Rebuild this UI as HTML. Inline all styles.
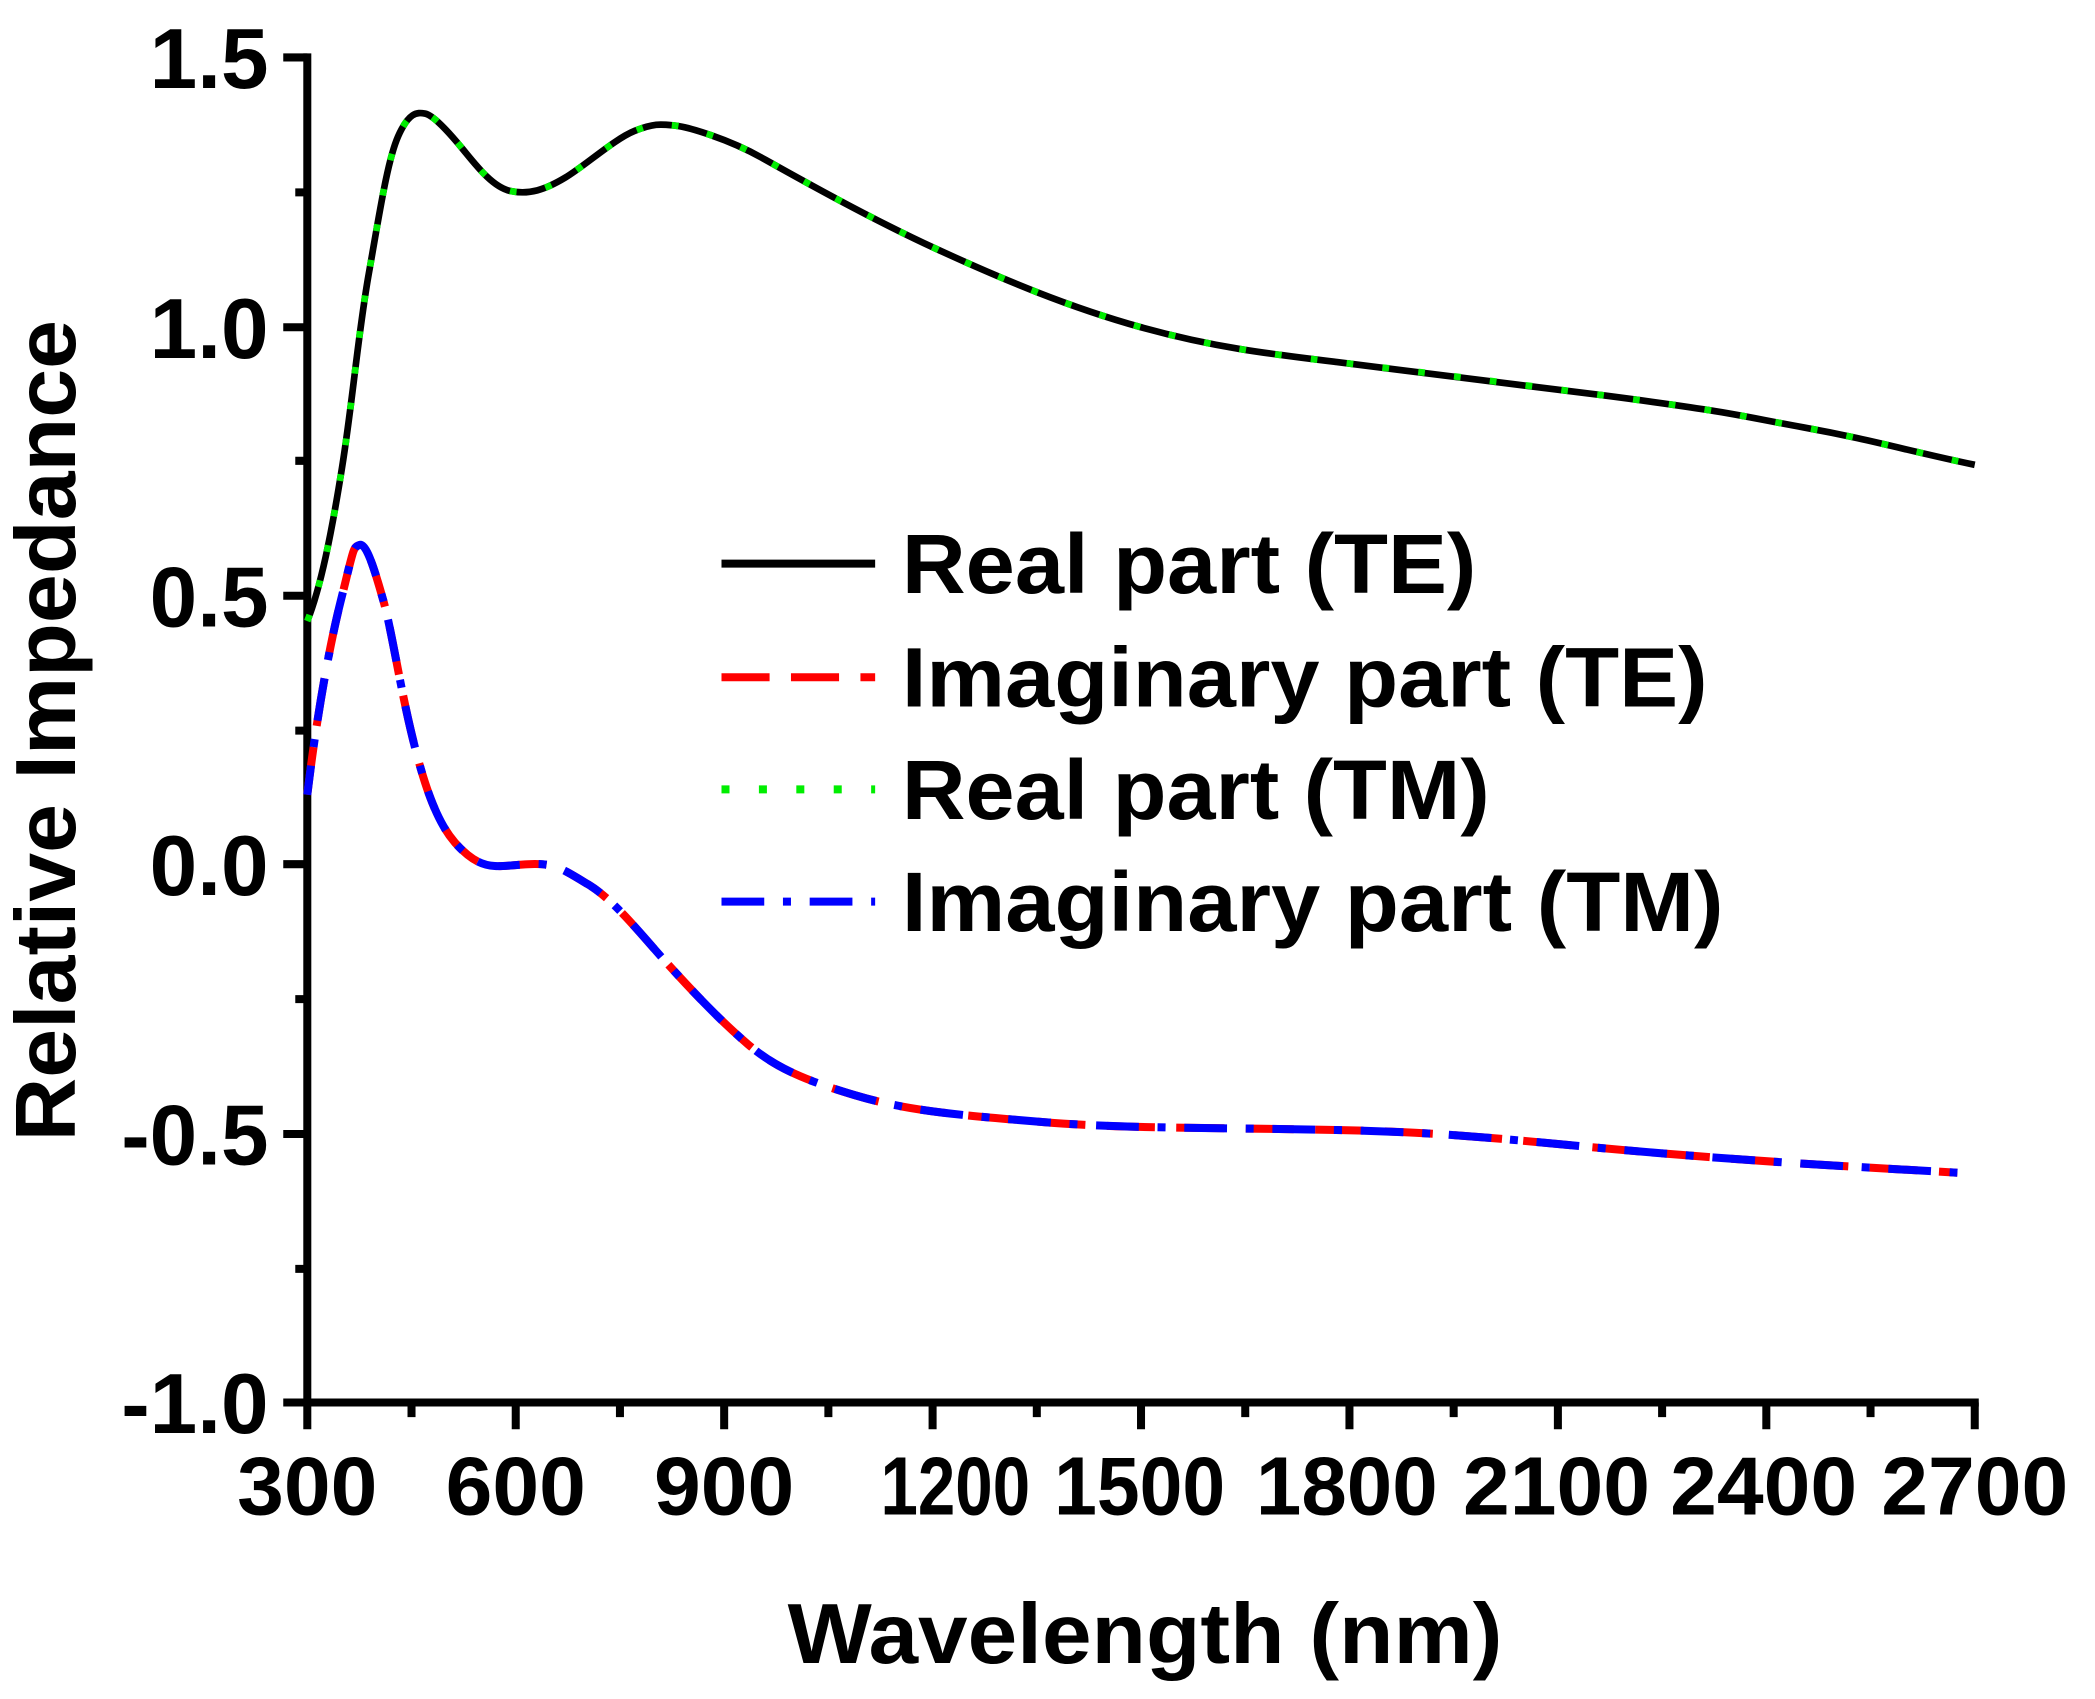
<!DOCTYPE html>
<html><head><meta charset="utf-8"><style>html,body{margin:0;padding:0;background:#fff}svg{display:block}</style></head>
<body>
<svg width="2095" height="1699" viewBox="0 0 1568 1272" preserveAspectRatio="none" xmlns="http://www.w3.org/2000/svg" font-family="Liberation Sans, Arial, sans-serif" font-weight="bold">
<rect width="1568" height="1272" fill="#fff"/>
<g stroke="#000" stroke-width="6" fill="none">
<line x1="230" y1="40" x2="230" y2="1053"/>
<line x1="227" y1="1050" x2="1481" y2="1050"/>
<path d="M212 43H230M212 245H230M212 446H230M212 647H230M212 849H230M212 1050H230"/>
<path d="M221 144H230M221 345H230M221 547H230M221 748H230M221 950H230"/>
<path d="M230 1050V1070M386 1050V1070M542 1050V1070M698 1050V1070M854 1050V1070M1010 1050V1070M1166 1050V1070M1322 1050V1070M1478 1050V1070"/>
<path d="M308 1050V1061M464 1050V1061M620 1050V1061M776 1050V1061M932 1050V1061M1088 1050V1061M1244 1050V1061M1400 1050V1061"/>
</g>
<g font-size="64" text-anchor="end">
<text x="201" y="66">1.5</text><text x="201" y="268">1.0</text><text x="201" y="469">0.5</text>
<text x="201" y="670">0.0</text><text x="201" y="872">-0.5</text><text x="201" y="1073">-1.0</text>
</g>
<g font-size="62" text-anchor="middle">
<text x="230" y="1134" textLength="105" lengthAdjust="spacingAndGlyphs">300</text>
<text x="386" y="1134" textLength="105" lengthAdjust="spacingAndGlyphs">600</text>
<text x="542" y="1134" textLength="105" lengthAdjust="spacingAndGlyphs">900</text>
<text x="715" y="1134" textLength="112" lengthAdjust="spacingAndGlyphs">1200</text>
<text x="853" y="1134" textLength="128" lengthAdjust="spacingAndGlyphs">1500</text>
<text x="1008" y="1134" textLength="136" lengthAdjust="spacingAndGlyphs">1800</text>
<text x="1165" y="1134" textLength="140" lengthAdjust="spacingAndGlyphs">2100</text>
<text x="1320" y="1134" textLength="140" lengthAdjust="spacingAndGlyphs">2400</text>
<text x="1478" y="1134" textLength="140" lengthAdjust="spacingAndGlyphs">2700</text>
</g>
<text x="857" y="1245" font-size="64" text-anchor="middle" textLength="535" lengthAdjust="spacingAndGlyphs">Wavelength (nm)</text>
<text transform="translate(56,547) rotate(-90)" font-size="64" text-anchor="middle" textLength="615" lengthAdjust="spacingAndGlyphs">Relative Impedance</text>
<g fill="none" stroke-linejoin="round">
<path d="M230,465 C240,440 248,400 256,350 S268,250 276,205 S290,120 298,102 S312,84 318,85 S335,98 345,110 S368,140 382,143 S408,142 423,133 S460,104 475,98 S495,93 505,94 S545,104 570,118 S650,163 700,186 S800,230 854,245 S950,265 1000,271 S1100,283 1200,296 S1300,311 1350,320 S1430,338 1478,348" stroke="#000" stroke-width="5"/>
<path d="M230,465 C240,440 248,400 256,350 S268,250 276,205 S290,120 298,102 S312,84 318,85 S335,98 345,110 S368,140 382,143 S408,142 423,133 S460,104 475,98 S495,93 505,94 S545,104 570,118 S650,163 700,186 S800,230 854,245 S950,265 1000,271 S1100,283 1200,296 S1300,311 1350,320 S1430,338 1478,348" stroke="#00ee00" stroke-width="5" stroke-dasharray="5 22"/>
<path id="im" d="M230,595 C236,545 245,490 255,450 S264,410 269,408 S280,425 287,450 S300,520 312,565 S335,628 350,640 S375,648 395,647 S420,650 440,662 S480,700 500,722 S540,765 560,782 S600,808 640,820 S720,835 780,840 S900,844 1000,846 S1150,856 1250,864 S1400,874 1465,878" stroke="#ff0000" stroke-width="6" stroke-dasharray="36 16"/>
<path d="M230,595 C236,545 245,490 255,450 S264,410 269,408 S280,425 287,450 S300,520 312,565 S335,628 350,640 S375,648 395,647 S420,650 440,662 S480,700 500,722 S540,765 560,782 S600,808 640,820 S720,835 780,840 S900,844 1000,846 S1150,856 1250,864 S1400,874 1465,878" stroke="#0000ff" stroke-width="6" stroke-dasharray="32 14 6 14" stroke-dashoffset="10"/>
</g>
<g stroke-width="6">
<line x1="540" y1="422" x2="655" y2="422" stroke="#000"/>
<line x1="540" y1="507" x2="655" y2="507" stroke="#ff0000" stroke-dasharray="36 16"/>
<line x1="540" y1="591" x2="655" y2="591" stroke="#00ee00" stroke-dasharray="6 22"/>
<line x1="540" y1="675" x2="655" y2="675" stroke="#0000ff" stroke-dasharray="32 14 6 14"/>
</g>
<g font-size="63">
<text x="675" y="444" textLength="430" lengthAdjust="spacingAndGlyphs">Real part (TE)</text>
<text x="675" y="529" textLength="603" lengthAdjust="spacingAndGlyphs">Imaginary part (TE)</text>
<text x="675" y="613" textLength="440" lengthAdjust="spacingAndGlyphs">Real part (TM)</text>
<text x="675" y="697" textLength="615" lengthAdjust="spacingAndGlyphs">Imaginary part (TM)</text>
</g>
</svg>
</body></html>
